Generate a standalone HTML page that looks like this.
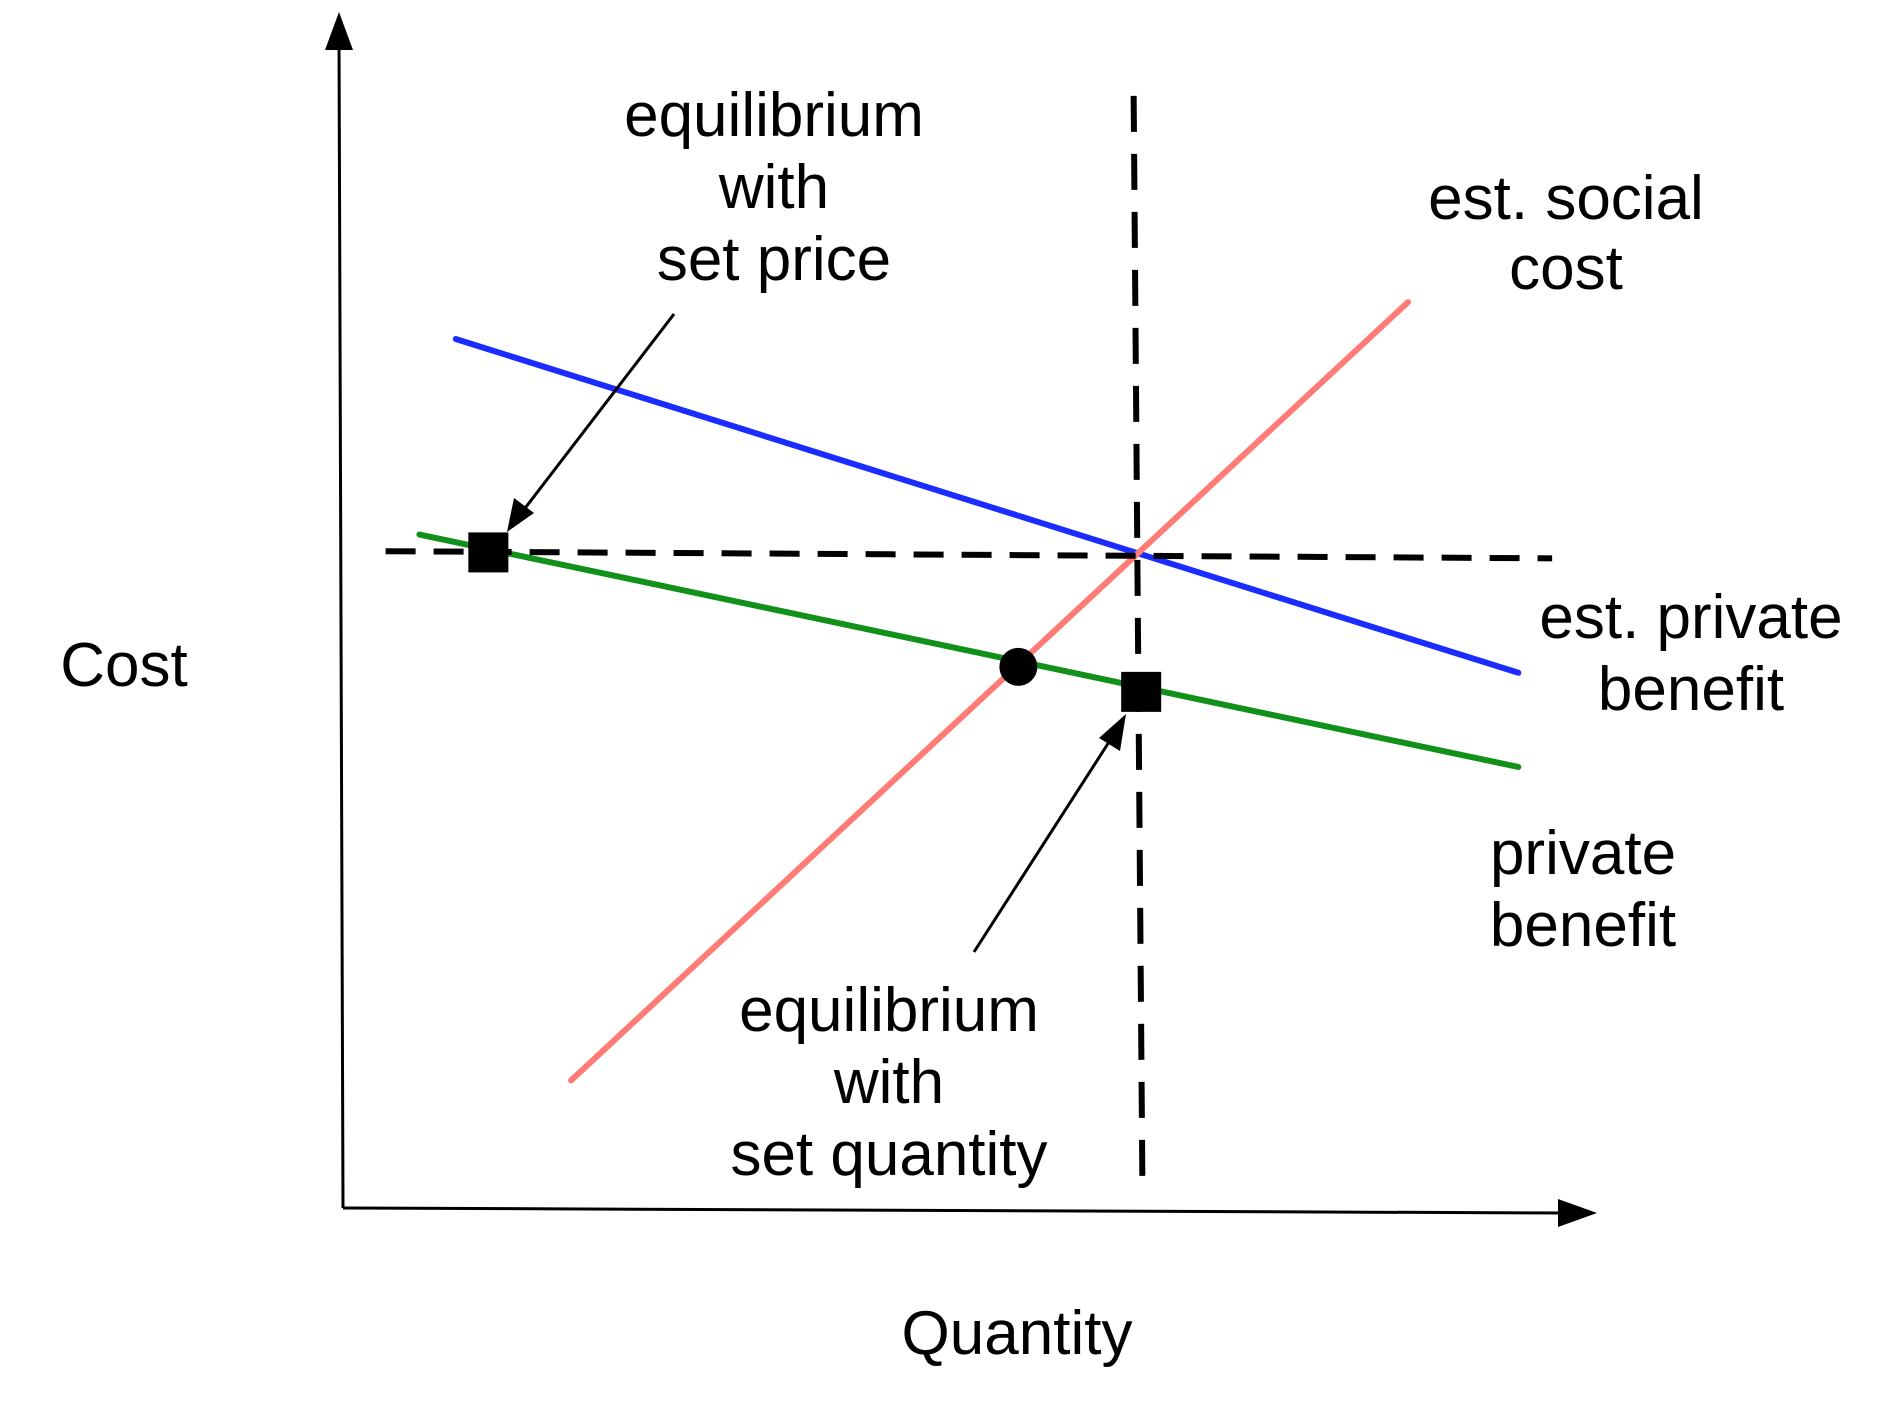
<!DOCTYPE html>
<html><head><meta charset="utf-8"><style>
html,body{margin:0;padding:0;background:#fff;}
svg{display:block;}
text{font-family:"Liberation Sans",Arial,sans-serif;font-size:62px;fill:#000;}
</style></head><body>
<svg id="chart" width="1884" height="1405" viewBox="0 0 1884 1405">
<g id="axes" transform="translate(-4,-2)"></g>
<g id="marks" transform="translate(-4,-2)"></g>
<g id="labels">
<text x="774" y="136" text-anchor="middle"><tspan x="774">equilibrium</tspan><tspan x="774" dy="72">with</tspan><tspan x="774" dy="72">set price</tspan></text>
<text x="1566" y="219" text-anchor="middle"><tspan x="1566">est. social</tspan><tspan x="1566" dy="70">cost</tspan></text>
<text x="1691" y="638" text-anchor="middle"><tspan x="1691">est. private</tspan><tspan x="1691" dy="72">benefit</tspan></text>
<text x="1583" y="874" text-anchor="middle"><tspan x="1583">private</tspan><tspan x="1583" dy="72">benefit</tspan></text>
<text x="889" y="1031" text-anchor="middle"><tspan x="889">equilibrium</tspan><tspan x="889" dy="72">with</tspan><tspan x="889" dy="72">set quantity</tspan></text>
<text x="124" y="686" text-anchor="middle">Cost</text>
<text x="1017" y="1354" text-anchor="middle">Quantity</text>
</g>
</svg>
<script>
const seriesNames = ["est-private-benefit","private-benefit","est-social-cost"];
const seriesColors = ["#1a2cff","#11901a","#ff7b76"];
const lineX0 = [9.0, 6.1, 18.2];
const lineY0 = [72.9, 56.5, 10.7];
const lineX1 = [93.8, 93.8, 85.0];
const lineY1 = [44.9, 37.0, 76.0];
const priceLineX = [3.4, 96.5];
const priceLineY = [55.1, 54.5];
const quantityLineX = [63.1, 63.8];
const quantityLineY = [93.3, 1.9];
const squareX = [11.6, 63.7];
const squareY = [55.0, 43.3];
const circleX = [53.9];
const circleY = [45.4];

const X0=347, Y0=1210, XS=12.53, YS=11.92;
function sx(v){return X0+v*XS;}
function sy(v){return Y0-v*YS;}
const NS="http://www.w3.org/2000/svg";
function mk(tag, attrs, parent){const e=document.createElementNS(NS,tag);for(const k in attrs)e.setAttribute(k,attrs[k]);parent.appendChild(e);return e;}
const axes=document.getElementById('axes'), marks=document.getElementById('marks');

let a=mk('line',{x1:347,y1:1210,x2:343,y2:40,stroke:'#000','stroke-width':3},axes);


let ah1=mk('path',{d:'M329,52 L343,14 L357,52 Z',fill:'#000'},axes);


let xa=mk('line',{x1:347,y1:1210,x2:1570,y2:1215,stroke:'#000','stroke-width':3},axes);


let ah2=mk('path',{d:'M1562,1201 L1601,1215 L1562,1229 Z',fill:'#000'},axes);



for(let i=0;i<seriesNames.length;i++){
  const l=mk('line',{x1:sx(lineX0[i]),y1:sy(lineY0[i]),x2:sx(lineX1[i]),y2:sy(lineY1[i]),stroke:seriesColors[i],'stroke-width':6,'stroke-linecap':'round'},marks);
  
  
}
const hp=mk('line',{x1:sx(priceLineX[0]),y1:sy(priceLineY[0]),x2:sx(priceLineX[1]),y2:sy(priceLineY[1]),stroke:'#000','stroke-width':6,'stroke-dasharray':'30 18'},marks);


const vq=mk('line',{x1:sx(quantityLineX[0]),y1:sy(quantityLineY[0]),x2:sx(quantityLineX[1]),y2:sy(quantityLineY[1]),stroke:'#000','stroke-width':6,'stroke-dasharray':'36 22'},marks);


for(let i=0;i<squareX.length;i++){
  const s=mk('rect',{x:sx(squareX[i])-20,y:sy(squareY[i])-20,width:40,height:40,fill:'#000'},marks);
  
  
}
for(let i=0;i<circleX.length;i++){
  const c=mk('circle',{cx:sx(circleX[i]),cy:sy(circleY[i]),r:19,fill:'#000'},marks);
  
  
}
const ar1=mk('line',{x1:678,y1:316,x2:520,y2:522,stroke:'#000','stroke-width':3},marks);


const ah3=mk('path',{d:'M511,534 L518,500 L538,515 Z',fill:'#000'},marks);


const ar2=mk('line',{x1:978,y1:954,x2:1122,y2:730,stroke:'#000','stroke-width':3},marks);


const ah4=mk('path',{d:'M1130,716 L1124,753 L1103,740 Z',fill:'#000'},marks);


</script>
</body></html>
